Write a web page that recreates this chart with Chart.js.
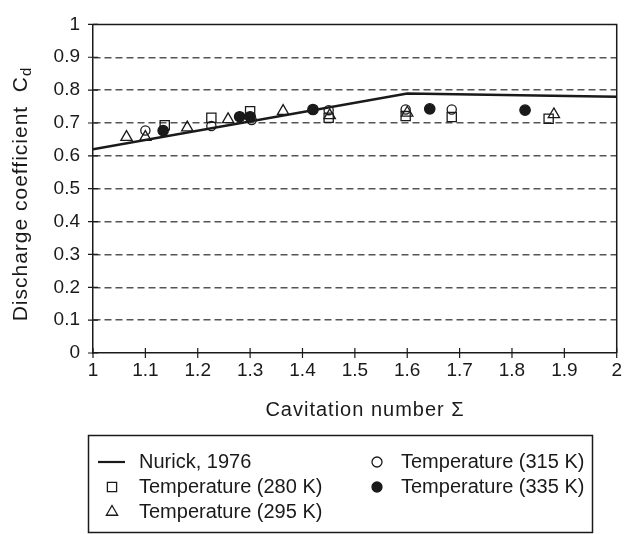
<!DOCTYPE html>
<html>
<head>
<meta charset="utf-8">
<script src="https://cdn.jsdelivr.net/npm/chart.js@4"></script>
<style>
  html, body { margin: 0; padding: 0; background: #fff; }
  #wrap { width: 628px; height: 534px; }
</style>
</head>
<body>
<div id="wrap"><canvas id="cd_chart" width="628" height="534"></canvas></div>
<script>
// values
const nurickX = [1, 1.6, 2];
const nurickY = [0.62, 0.79, 0.78];

const t280X = [1.137, 1.226, 1.30, 1.45, 1.597, 1.685, 1.87];
const t280Y = [0.693, 0.716, 0.736, 0.716, 0.721, 0.718, 0.713];

const t295X = [1.064, 1.10, 1.18, 1.258, 1.363, 1.452, 1.60, 1.88];
const t295Y = [0.657, 0.657, 0.686, 0.711, 0.736, 0.723, 0.731, 0.726];

const t315X = [1.10, 1.226, 1.303, 1.45, 1.597, 1.685];
const t315Y = [0.677, 0.691, 0.709, 0.739, 0.741, 0.741];

const t335X = [1.134, 1.28, 1.30, 1.42, 1.643, 1.825];
const t335Y = [0.677, 0.719, 0.719, 0.741, 0.743, 0.739];

const xTicks = [1, 1.1, 1.2, 1.3, 1.4, 1.5, 1.6, 1.7, 1.8, 1.9, 2];
const yTicks = [0, 0.1, 0.2, 0.3, 0.4, 0.5, 0.6, 0.7, 0.8, 0.9, 1];

const FONT = "'Liberation Sans', Arial, sans-serif";
const INK = '#1a1a1a';

const pts = (xs, ys) => xs.map((x, i) => ({x: x, y: ys[i]}));

const marker = (label, xs, ys, style, radius, fill) => ({
    label: label,
    data: pts(xs, ys),
    showLine: false,
    pointStyle: style,
    pointRadius: radius,
    pointBorderWidth: 1.3,
    pointBorderColor: INK,
    pointBackgroundColor: fill,
});

// frame: top + right border and ticks crossing the axes
const framePlugin = {
    id: 'frame',
    afterDatasetsDraw(chart) {
        const {ctx, chartArea: a, scales} = chart;
        ctx.save();
        ctx.strokeStyle = INK;
        ctx.lineWidth = 1.5;
        ctx.beginPath();
        ctx.moveTo(a.left, a.top);
        ctx.lineTo(a.right, a.top);
        ctx.lineTo(a.right, a.bottom);
        ctx.stroke();
        ctx.lineWidth = 1.2;
        ctx.beginPath();
        xTicks.forEach(v => {
            let px = scales.x.getPixelForValue(v);
            ctx.moveTo(px, a.bottom - 5);
            ctx.lineTo(px, a.bottom + 5);
        });
        yTicks.forEach(v => {
            let py = scales.y.getPixelForValue(v);
            ctx.moveTo(a.left - 5, py);
            ctx.lineTo(a.left + 5, py);
        });
        ctx.stroke();
        ctx.restore();
    }
};

// axis titles (y one has a subscript d)
const titlesPlugin = {
    id: 'titles',
    afterDraw(chart) {
        const {ctx} = chart;
        const main = 'Discharge coefficient  C';
        ctx.save();
        ctx.fillStyle = INK;
        ctx.textBaseline = 'middle';

        ctx.font = '20px ' + FONT;
        ctx.letterSpacing = '1px';
        ctx.textAlign = 'center';
        ctx.fillText('Cavitation number Σ', 365, 410);

        ctx.textAlign = 'left';
        ctx.font = '21px ' + FONT;
        ctx.letterSpacing = '1px';
        const w1 = ctx.measureText(main).width;
        ctx.font = '15px ' + FONT;
        const w2 = ctx.measureText('d').width;
        ctx.translate(21, 194);
        ctx.rotate(-Math.PI / 2);
        const start = -(w1 + w2) / 2;
        ctx.font = '21px ' + FONT;
        ctx.fillText(main, start, 0);
        ctx.font = '15px ' + FONT;
        ctx.fillText('d', start + w1, 6);
        ctx.restore();
    }
};

// boxed two-column legend under the axis
const legendPlugin = {
    id: 'boxlegend',
    afterDraw(chart) {
        const {ctx} = chart;
        const ds = chart.data.datasets;
        const slots = [
            {i: 0, x: 112, y: 462}, {i: 1, x: 112, y: 487}, {i: 2, x: 112, y: 512},
            {i: 3, x: 377, y: 462}, {i: 4, x: 377, y: 487}
        ];
        ctx.save();
        ctx.strokeStyle = INK;
        ctx.lineWidth = 1.5;
        ctx.strokeRect(88.5, 435.5, 504, 97);
        ctx.font = '20px ' + FONT;
        ctx.textBaseline = 'middle';
        slots.forEach(s => {
            const d = ds[s.i];
            ctx.strokeStyle = INK;
            if (d.showLine) {
                ctx.lineWidth = 2.2;
                ctx.beginPath();
                ctx.moveTo(98, s.y);
                ctx.lineTo(125, s.y);
                ctx.stroke();
            } else {
                ctx.fillStyle = d.pointBackgroundColor;
                ctx.lineWidth = 1.3;
                Chart.helpers.drawPoint(ctx, {
                    pointStyle: d.pointStyle,
                    radius: d.pointStyle === 'circle' ? 5 : 6.5,
                    rotation: 0,
                    borderWidth: 1.3
                }, s.x, s.y);
            }
            ctx.fillStyle = INK;
            ctx.fillText(d.label, s.x < 200 ? 139 : 401, s.y);
        });
        ctx.restore();
    }
};

const config = {
    type: 'scatter',
    data: {
        datasets: [
            {
                label: 'Nurick, 1976',
                data: pts(nurickX, nurickY),
                showLine: true,
                borderColor: INK,
                borderWidth: 2.5,
                pointRadius: 0,
                tension: 0,
            },
            marker('Temperature (280 K)', t280X, t280Y, 'rect', 6.5, 'rgba(0,0,0,0)'),
            marker('Temperature (295 K)', t295X, t295Y, 'triangle', 6.5, 'rgba(0,0,0,0)'),
            marker('Temperature (315 K)', t315X, t315Y, 'circle', 4.6, 'rgba(0,0,0,0)'),
            marker('Temperature (335 K)', t335X, t335Y, 'circle', 5.2, INK),
        ]
    },
    options: {
        responsive: false,
        animation: false,
        layout: {
            padding: {left: 0, top: 16, right: 11, bottom: 109}
        },
        plugins: {
            legend: {display: false},
            tooltip: {enabled: false}
        },
        scales: {
            x: {
                type: 'linear',
                min: 1,
                max: 2,
                afterFit: (s) => { s.height = 72; },
                afterBuildTicks: (s) => { s.ticks = xTicks.map(v => ({value: v})); },
                ticks: {
                    padding: 6,
                    color: INK,
                    font: {family: FONT, size: 19},
                    maxRotation: 0,
                    callback: (v) => String(v)
                },
                grid: {display: true, drawOnChartArea: false, drawTicks: false},
                border: {display: true, color: INK, width: 1.5}
            },
            y: {
                type: 'linear',
                min: 0,
                max: 1,
                afterFit: (s) => { s.width = 93; },
                afterBuildTicks: (s) => { s.ticks = yTicks.map(v => ({value: v})); },
                ticks: {
                    padding: 13,
                    color: INK,
                    font: {family: FONT, size: 19},
                    callback: (v) => String(v)
                },
                grid: {
                    drawTicks: false,
                    lineWidth: 1.4,
                    color: (c) => (c.tick && c.tick.value > 0.05 && c.tick.value < 0.95) ? '#555' : 'rgba(0,0,0,0)'
                },
                border: {display: true, color: INK, width: 1.5, dash: [7, 4]}
            }
        }
    },
    plugins: [framePlugin, titlesPlugin, legendPlugin]
};

let cdChart = new Chart(document.getElementById('cd_chart').getContext('2d'), config);
</script>
</body>
</html>
